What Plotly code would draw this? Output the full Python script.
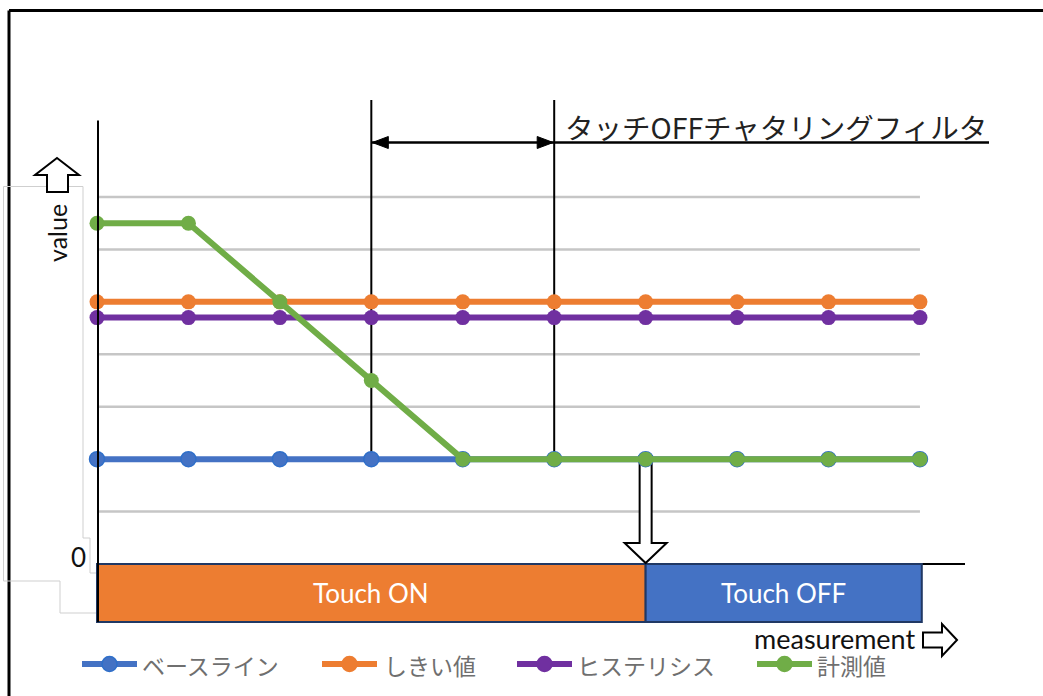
import plotly.graph_objects as go

# ---------------- data ----------------
measurement = [0, 1, 2, 3, 4, 5, 6, 7, 8, 9]
baseline = [2, 2, 2, 2, 2, 2, 2, 2, 2, 2]
threshold = [5, 5, 5, 5, 5, 5, 5, 5, 5, 5]
hysteresis = [4.7, 4.7, 4.7, 4.7, 4.7, 4.7, 4.7, 4.7, 4.7, 4.7]
measured = [6.5, 6.5, 5, 3.5, 2, 2, 2, 2, 2, 2]
series_names = ["ベースライン", "しきい値", "ヒステリシス", "計測値"]
series_values = [baseline, threshold, hysteresis, measured]
series_colors = ["#4472c4", "#ed7d31", "#7030a0", "#70ad47"]
grid_values = [1, 2, 3, 4, 5, 6, 7]
state_labels = ["Touch ON", "Touch OFF"]
state_spans = [(0, 6), (6, 9.02)]
state_colors = ["#ed7d31", "#4472c4"]
filter_span = (3, 5)
filter_label = "タッチOFFチャタリングフィルタ"
y_label = "value"
x_label = "measurement"
zero_label = "0"

# ---------------- pixel <-> data helpers (layout only) ----------------
W, H = 1043, 696
X0, DX = 97.0, 91.44   # pixel of x=0, pixels per step
Y0, DY = 564.0, 52.43  # pixel of y=0, pixels per unit


def px(x):
    return (x - X0) / DX


def py(y):
    return (Y0 - y) / DY


def path(points, close=True):
    s = "M " + " L ".join(f"{px(a):.5f},{py(b):.5f}" for a, b in points)
    return s + (" Z" if close else "")


def xpix(v):
    return X0 + v * DX


fig = go.Figure()

for name, vals, col in zip(series_names, series_values, series_colors):
    mline = dict(width=1.5, color="#2f6fc9") if col == "#4472c4" else dict(width=0)
    fig.add_trace(go.Scatter(
        x=measurement, y=vals, name=name, mode="lines+markers",
        line=dict(color=col, width=6),
        marker=dict(color=col, size=15, line=mline),
        showlegend=False, cliponaxis=False,
    ))

shapes = []
black = "#000000"

# outer frame
shapes.append(dict(type="line", x0=px(9), x1=px(W + 10), y0=py(10.5), y1=py(10.5),
                   line=dict(color=black, width=3), layer="below"))
shapes.append(dict(type="line", x0=px(9), x1=px(9), y0=py(10.5), y1=py(H + 10),
                   line=dict(color=black, width=3), layer="below"))

# faint leftover outlines
shapes.append(dict(type="path", path=path([(83, 186.5), (3.5, 186.5), (3.5, 581), (60, 581), (60, 613), (97, 613)], False),
                   line=dict(color="#cfcfcf", width=1), layer="below"))
shapes.append(dict(type="path", path=path([(83, 186.5), (83, 538), (90, 538), (90, 573), (97, 573)], False),
                   line=dict(color="#cfcfcf", width=1), layer="below"))

# gridlines
for g in grid_values:
    shapes.append(dict(type="line", x0=measurement[0], x1=measurement[-1], y0=g, y1=g,
                       line=dict(color="#c6c6c6", width=2.5), layer="below"))

# x axis baseline line
shapes.append(dict(type="line", x0=measurement[0], x1=px(965), y0=0, y1=0,
                   line=dict(color=black, width=2), layer="below"))

# state bars
for (a, b), col in zip(state_spans, state_colors):
    shapes.append(dict(type="rect", x0=a, x1=b, y0=0, y1=py(622),
                       fillcolor=col, line=dict(color="#203864", width=2), layer="below"))

# chattering filter vertical markers
yb = baseline[filter_span[0]]
ytop = py(100)
for f in filter_span:
    shapes.append(dict(type="line", x0=f, x1=f, y0=yb, y1=ytop,
                       line=dict(color=black, width=2), layer="below"))
ya = 142.5
xa0, xa1 = xpix(filter_span[0]), xpix(filter_span[1])
shapes.append(dict(type="line", x0=filter_span[0], x1=filter_span[1], y0=py(ya), y1=py(ya),
                   line=dict(color=black, width=2.5), layer="below"))
shapes.append(dict(type="line", x0=filter_span[1], x1=px(989), y0=py(ya), y1=py(ya),
                   line=dict(color=black, width=2.5), layer="below"))
shapes.append(dict(type="path", path=path([(xa0 + 1, ya), (xa0 + 17, ya - 6), (xa0 + 17, ya + 6)]),
                   fillcolor=black, line=dict(color=black, width=1), layer="below"))
shapes.append(dict(type="path", path=path([(xa1 - 1, ya), (xa1 - 17, ya - 6), (xa1 - 17, ya + 6)]),
                   fillcolor=black, line=dict(color=black, width=1), layer="below"))

# down arrow at the state change
xd = xpix(state_spans[1][0])
shapes.append(dict(type="path",
                   path=path([(xd - 6, 456), (xd - 6, 543), (xd - 21, 543), (xd, 563),
                              (xd + 21, 543), (xd + 6, 543), (xd + 6, 456)]),
                   fillcolor="white", line=dict(color=black, width=2), layer="below"))

# y-axis hollow up arrow
shapes.append(dict(type="path",
                   path=path([(57, 158), (79, 175), (68, 175), (68, 192), (47, 192), (47, 175), (35, 175)]),
                   fillcolor="white", line=dict(color=black, width=2), layer="below"))

# x-axis hollow right arrow
shapes.append(dict(type="path",
                   path=path([(957, 640), (942, 624), (942, 632.5), (923, 632.5), (923, 647.5), (942, 647.5), (942, 656)]),
                   fillcolor="white", line=dict(color=black, width=2), layer="below"))

# y axis line (over the markers)
shapes.append(dict(type="line", x0=px(98), x1=px(98), y0=py(120.5), y1=py(622),
                   line=dict(color=black, width=2), layer="above"))

# legend (drawn manually)
leg_line_x = [82, 322, 517, 757]
leg_text_x = [143, 385, 578, 818]
leg_y = 664
annotations = []
for name, col, lx, tx in zip(series_names, series_colors, leg_line_x, leg_text_x):
    shapes.append(dict(type="line", x0=px(lx), x1=px(lx + 55), y0=py(leg_y), y1=py(leg_y),
                       line=dict(color=col, width=6), layer="above"))
    shapes.append(dict(type="circle", xsizemode="pixel", ysizemode="pixel",
                       xanchor=px(lx + 27.5), yanchor=py(leg_y), x0=-7.5, x1=7.5, y0=-7.5, y1=7.5,
                       fillcolor=col,
                       line=dict(color="#2f6fc9" if col == "#4472c4" else col, width=1.5),
                       layer="above"))
    annotations.append(dict(x=px(tx - 2), y=py(leg_y + 1), text=name, showarrow=False,
                            xanchor="left", yanchor="middle", borderpad=0,
                            font=dict(family="Noto Sans CJK JP", size=23, color="#6f6f6f")))

lat = "Lato"
annotations += [
    dict(x=px(563), y=py(126), text=filter_label, showarrow=False, xanchor="left", yanchor="middle",
         font=dict(family="Noto Sans CJK JP", size=28.5, color="#222222")),
    dict(x=px(57), y=py(233), text=y_label, showarrow=False, textangle=-90,
         xanchor="center", yanchor="middle", font=dict(family=lat, size=25, color="#111111")),
    dict(x=px(78), y=py(557), text=zero_label, showarrow=False, xanchor="center", yanchor="middle",
         font=dict(family=lat, size=26, color="#111111")),
    dict(x=px(916), y=py(638), text=x_label, showarrow=False, xanchor="right", yanchor="middle",
         borderpad=0, font=dict(family=lat, size=27, color="#111111")),
]
for (a, b), lab in zip(state_spans, state_labels):
    annotations.append(dict(x=(a + b) / 2, y=py(593), text=lab, showarrow=False,
                            xanchor="center", yanchor="middle",
                            font=dict(family=lat, size=26, color="white")))

fig.update_layout(
    width=W, height=H,
    margin=dict(l=0, r=0, t=0, b=0),
    paper_bgcolor="white", plot_bgcolor="white",
    xaxis=dict(range=[px(0), px(W)], visible=False, fixedrange=True),
    yaxis=dict(range=[py(H), py(0)], visible=False, fixedrange=True),
    shapes=shapes, annotations=annotations, showlegend=False,
)

fig.write_html("out.html")
